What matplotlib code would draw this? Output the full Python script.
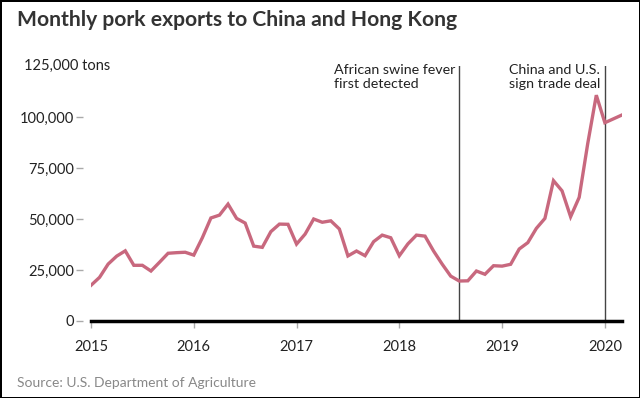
import matplotlib.pyplot as plt
from matplotlib.ticker import FixedLocator, FuncFormatter

# monthly pork exports to China and Hong Kong, tons, Jan 2015 - Mar 2020
start_year = 2015
exports = [
    17500, 21400, 27900, 31800, 34400, 27300, 27300, 24500, 28800, 33200, 33500, 33700,
    32300, 40800, 50500, 51900, 57300, 50300, 48000, 36700, 36100, 43800, 47500, 47400,
    37700, 42600, 50000, 48400, 49100, 45100, 31900, 34300, 32000, 38900, 42100, 40800,
    32000, 37800, 42100, 41600, 34300, 27900, 22000, 19600, 19700, 24500, 22900, 27100,
    26900, 27800, 35300, 38400, 45400, 50300, 68800, 63800, 51100, 60600, 87000, 110700,
    97200, 99100, 101000,
]
year_ticks = [2015, 2016, 2017, 2018, 2019, 2020]
y_ticks = [0, 25000, 50000, 75000, 100000]
events = [
    (2018 + 7 / 12, "African swine fever\nfirst detected"),
    (2020 + 0 / 12, "China and U.S.\nsign trade deal"),
]

plt.rcParams["font.family"] = ["Lato", "DejaVu Sans"]

months = [start_year + i / 12 for i in range(len(exports))]

fig = plt.figure(figsize=(6.4, 3.98), dpi=100, linewidth=2, edgecolor="black")
ax = fig.add_axes([91 / 640, 1 - 321 / 398, (622 - 91) / 640, (321 - 66) / 398])

ax.plot(months, exports, color="#c8687e", linewidth=2.4, solid_joinstyle="miter", zorder=3)

for x, label in events:
    ax.axvline(x, color="#444444", linewidth=1, zorder=2)
    ax.text(x - 0.04, 126000, label, ha="right", va="top", multialignment="left",
            fontsize=10.3, color="#222222", linespacing=1.2)

ax.set_xlim(months[0], months[-1])
ax.set_ylim(0, 125000)

ax.xaxis.set_major_locator(FixedLocator(year_ticks))
ax.xaxis.set_major_formatter(FuncFormatter(lambda v, p: f"{int(round(v))}"))
ax.yaxis.set_major_locator(FixedLocator(y_ticks))
ax.yaxis.set_major_formatter(FuncFormatter(lambda v, p: f"{int(v):,}"))

ax.tick_params(axis="x", length=5, width=1, color="#aaaaaa", labelsize=10.5,
               labelcolor="#222222", pad=9)
ax.tick_params(axis="y", length=5, width=1, color="#aaaaaa", labelsize=10.5,
               labelcolor="#222222", pad=1)

for side in ["top", "right", "left"]:
    ax.spines[side].set_visible(False)
ax.spines["left"].set_position(("outward", 6))
ax.spines["bottom"].set_linewidth(2.5)
ax.spines["bottom"].set_color("black")
ax.spines["bottom"].set_zorder(4)

fig.text(24 / 640, 1 - 66 / 398, "125,000 tons", ha="left", va="center",
         fontsize=10.5, color="#222222")
fig.text(17 / 640, 1 - 10 / 398, "Monthly pork exports to China and Hong Kong",
         ha="left", va="top", fontsize=15.2, fontweight="bold", color="#333333")
fig.text(17 / 640, 1 - 383 / 398, "Source: U.S. Department of Agriculture",
         ha="left", va="center", fontsize=10, color="#888888")

fig.savefig("out.png", dpi=100, edgecolor=fig.get_edgecolor())
